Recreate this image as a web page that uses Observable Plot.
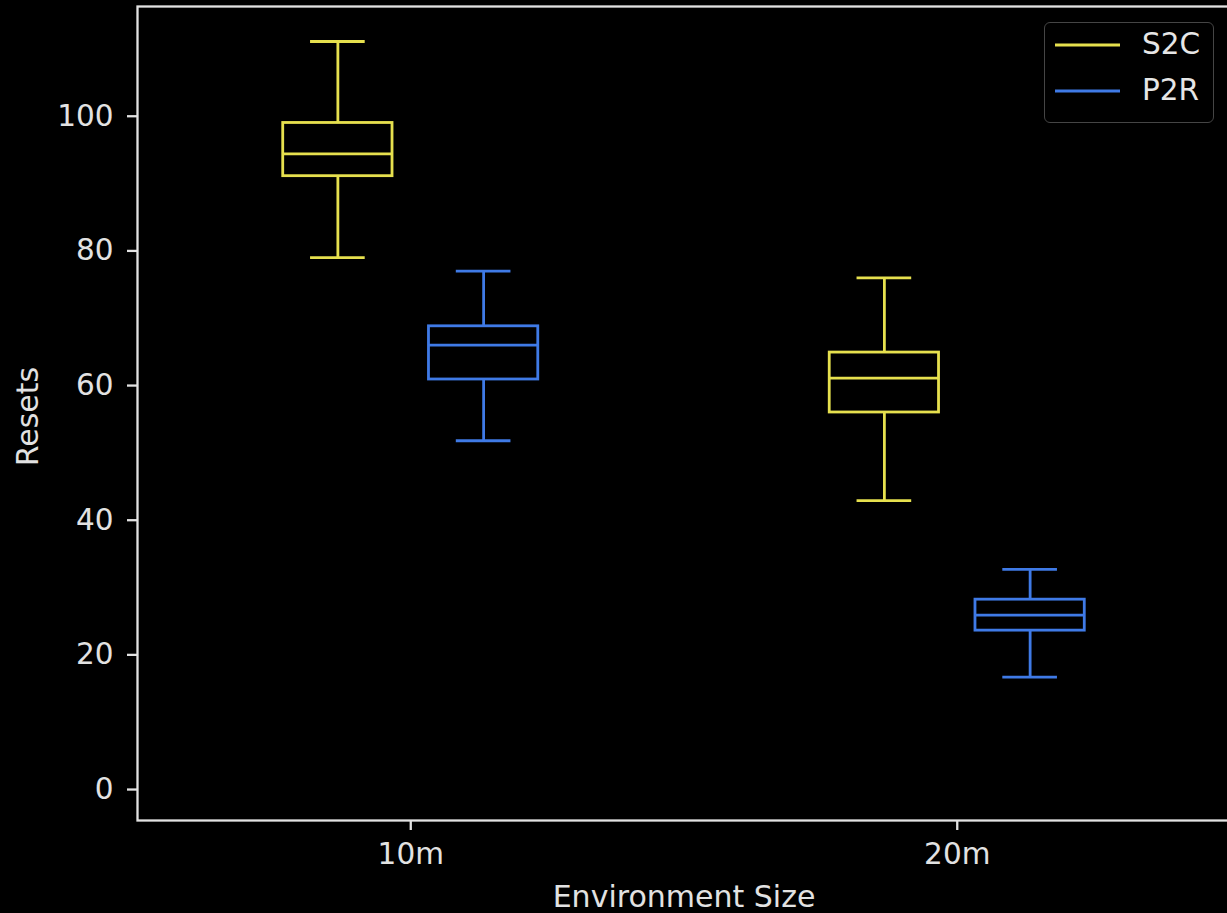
<!DOCTYPE html>
<html>
<head>
<meta charset="utf-8">
<script src="https://cdn.jsdelivr.net/npm/d3@7"></script>
<script src="https://cdn.jsdelivr.net/npm/@observablehq/plot@0.6"></script>
<style>
  html, body { margin: 0; padding: 0; background: #000; overflow: hidden; }
  #wrap { position: relative; width: 1227px; height: 913px; overflow: hidden; }
  #wrap > svg { max-width: none !important; display: block; }
  .legend { position: absolute; left: 1044px; top: 22px; width: 168px; height: 99px;
    border: 1.5px solid #454545; border-radius: 6px; background: #000;
    font-family: "DejaVu Sans", sans-serif; font-size: 29.5px; color: #e6e6e6; }
  .legend .row { position: absolute; left: 0; height: 40px; width: 168px; }
  .legend svg { position: absolute; left: 8px; top: 0; }
  .legend span { position: absolute; left: 97px; top: 50%; transform: translateY(-50%); line-height: 1; }
</style>
</head>
<body>
<div id="wrap"></div>
<script>
// ---- data ----
const sizes = ["10m", "20m"];
const seriesNames = ["S2C", "P2R"];
const seriesColors = ["#e6e04e", "#3f7ae6"];
// per size, per series [S2C, P2R]
const whiskerLo = [[79.0, 51.8], [42.9, 16.7]];
const quartile1 = [[91.1, 60.9], [56.0, 23.6]];
const medians   = [[94.4, 66.0], [61.1, 25.9]];
const quartile3 = [[99.0, 68.8], [64.9, 28.2]];
const whiskerHi = [[111.1, 77.0], [76.0, 32.7]];
const yTicks = [0, 20, 40, 60, 80, 100];
const yDomain = [-4.6, 116.3];

// ---- layout constants ----
const groupSpread = 0.2667; // distance between the two boxes of a group (x units)
const boxHalf = 0.1;
const capHalf = 0.05;
const fg = "#e2e2e2";
const tickFont = 29.5;
const labelFont = 30;

const boxes = sizes.flatMap((s, i) => seriesNames.map((n, j) => ({
  size: s, series: n,
  pos: i + 1 + (j - 0.5) * groupSpread,
  lo: whiskerLo[i][j], q1: quartile1[i][j], med: medians[i][j],
  q3: quartile3[i][j], hi: whiskerHi[i][j]
})));

const common = {stroke: "series", strokeWidth: 2.8};

const chart = Plot.plot({
  width: 1232, height: 913,
  marginLeft: 137, marginRight: 2, marginTop: 6, marginBottom: 93,
  style: {background: "#000", color: fg, fontFamily: "DejaVu Sans, sans-serif", fontSize: "29px", overflow: "visible", maxWidth: "none"},
  x: {domain: [0.5, 2.5], axis: null},
  y: {domain: yDomain, axis: null},
  color: {domain: seriesNames, range: seriesColors},
  marks: [
    Plot.axisY({ticks: yTicks, tickSize: 10, tickPadding: 14, fontSize: tickFont, strokeWidth: 2.3, label: null}),
    Plot.axisX({ticks: [1, 2], tickFormat: d => sizes[d - 1], tickSize: 10, tickPadding: 13, fontSize: tickFont, strokeWidth: 2.3, label: null}),
    Plot.ruleX(boxes, {x: "pos", y1: "lo", y2: "q1", ...common}),
    Plot.ruleX(boxes, {x: "pos", y1: "q3", y2: "hi", ...common}),
    Plot.ruleY(boxes, {y: "lo", x1: d => d.pos - capHalf, x2: d => d.pos + capHalf, ...common}),
    Plot.ruleY(boxes, {y: "hi", x1: d => d.pos - capHalf, x2: d => d.pos + capHalf, ...common}),
    Plot.rect(boxes, {x1: d => d.pos - boxHalf, x2: d => d.pos + boxHalf, y1: "q1", y2: "q3", fill: "none", ...common}),
    Plot.ruleY(boxes, {y: "med", x1: d => d.pos - boxHalf, x2: d => d.pos + boxHalf, ...common}),
    Plot.frame({stroke: fg, strokeWidth: 2.3}),
    Plot.text(["Resets"], {frameAnchor: "left", dx: -109, dy: 3, rotate: -90, fontSize: labelFont, fill: fg, textAnchor: "middle", lineAnchor: "middle"}),
    Plot.text(["Environment Size"], {frameAnchor: "bottom", dy: 77, fontSize: labelFont, fill: fg, textAnchor: "middle", lineAnchor: "middle"})
  ]
});

const wrap = document.getElementById("wrap");
wrap.appendChild(chart);

// legend
const legend = document.createElement("div");
legend.className = "legend";
seriesNames.forEach((name, j) => {
  const row = document.createElement("div");
  row.className = "row";
  row.style.top = (2 + j * 46) + "px";
  row.innerHTML = `<svg width="70" height="40"><line x1="2" x2="67" y1="20" y2="20" stroke="${seriesColors[j]}" stroke-width="2.8"/></svg><span>${name}</span>`;
  legend.appendChild(row);
});
wrap.appendChild(legend);
</script>
</body>
</html>
